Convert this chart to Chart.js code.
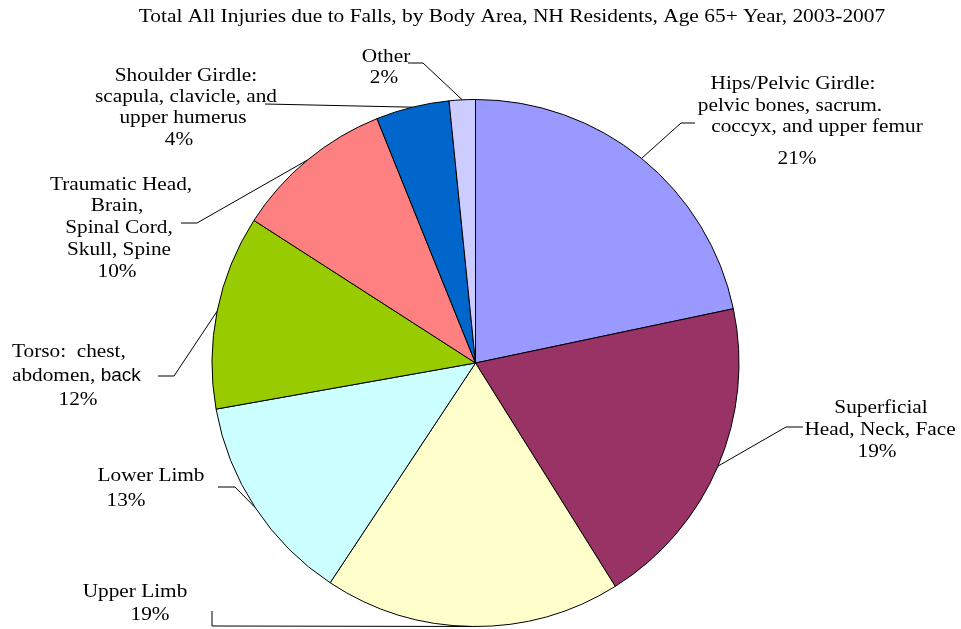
<!DOCTYPE html>
<html>
<head>
<meta charset="utf-8">
<title>Total All Injuries due to Falls, by Body Area</title>
<script src="https://cdn.jsdelivr.net/npm/chart.js@4.4.1/dist/chart.umd.min.js"></script>
<style>
  html, body { margin: 0; padding: 0; background: #fff; }
  canvas { display: block; }
</style>
</head>
<body>
<canvas id="fallsChart" width="961" height="629"></canvas>
<script>
// Data (slices clockwise from 12 o'clock)
const categories = ['Hips/Pelvic Girdle', 'Superficial Head, Neck, Face', 'Upper Limb', 'Lower Limb',
  'Torso', 'Traumatic Head, Brain, Spinal Cord, Skull, Spine', 'Shoulder Girdle', 'Other'];
const shares = [21.7, 19.4, 18.2, 12.9, 11.9, 9.8, 4.5, 1.6];
const percentLabels = ['21%', '19%', '19%', '13%', '12%', '10%', '4%', '2%'];
const sliceColors = ['#9999FF', '#993366', '#FFFFCC', '#CCFFFF', '#99CC00', '#FF8080', '#0066CC', '#CCCCFF'];
const titleText = 'Total All Injuries due to Falls, by Body Area, NH Residents, Age 65+ Year, 2003-2007';

const SERIF = '"Liberation Serif", "Times New Roman", serif';
const SANS = '"Liberation Sans", Arial, sans-serif';
const LABEL_FONT = '19px ' + SERIF;
const LABEL_STRETCH = 1.12; // the original text is a bit wider than the font

// label text lines: [text, centerX, middleY, align]; percent line uses percentLabels
const labelLayout = [
  { lines: [['Hips/Pelvic Girdle:', 793, 84], ['pelvic bones, sacrum.', 790, 106], ['coccyx, and upper femur', 817, 127]], pct: [797, 159],
    leader: [[681, 123], [695, 123]] },
  { lines: [['Superficial', 881, 408], ['Head, Neck, Face', 880, 430]], pct: [877, 452],
    leader: [[786, 427], [803, 427]] },
  { lines: [['Upper Limb', 135, 592]], pct: [150, 615],
    leader: [[212, 626], [212, 611]] },
  { lines: [['Lower Limb', 151, 476]], pct: [126, 501],
    leader: [[235, 487], [218, 487]] },
  { lines: [['Torso:  chest,', 12, 352, 'left']], pct: [78, 400], torso: true,
    leader: [[174, 376], [158, 376]] },
  { lines: [['Traumatic Head,', 121, 185], ['Brain,', 117, 206], ['Spinal Cord,', 119, 228], ['Skull, Spine', 119, 250]], pct: [117, 272],
    leader: [[197, 223], [181, 223]] },
  { lines: [['Shoulder Girdle:', 186, 76], ['scapula, clavicle, and', 186, 97], ['upper humerus', 183, 118]], pct: [179, 140],
    leader: [[265, 104]] },
  { lines: [['Other', 386, 57]], pct: [384, 78],
    leader: [[423, 63], [408, 63]] }
];

function drawText(ctx, text, x, y, align, font, stretch) {
  ctx.save();
  ctx.font = font || LABEL_FONT;
  ctx.textAlign = align || 'center';
  ctx.textBaseline = 'middle';
  ctx.translate(x, y);
  ctx.scale(stretch || LABEL_STRETCH, 1);
  ctx.fillText(text, 0, 0);
  ctx.restore();
}

const labelPlugin = {
  id: 'pieLabels',
  afterDraw(chart) {
    const ctx = chart.ctx;
    const arcs = chart.getDatasetMeta(0).data;
    ctx.save();
    ctx.fillStyle = '#000';
    ctx.strokeStyle = '#000';
    ctx.lineWidth = 1;

    drawText(ctx, titleText, 512, 17, 'center', '18px ' + SERIF, 1.19);

    arcs.forEach((arc, i) => {
      const lay = labelLayout[i];
      const mid = (arc.startAngle + arc.endAngle) / 2;
      const sx = arc.x + arc.outerRadius * Math.cos(mid);
      const sy = arc.y + arc.outerRadius * Math.sin(mid);
      ctx.beginPath();
      ctx.moveTo(sx, sy);
      lay.leader.forEach(p => ctx.lineTo(p[0], p[1]));
      ctx.stroke();

      lay.lines.forEach(l => drawText(ctx, l[0], l[1], l[2], l[3]));
      if (lay.torso) {
        ctx.font = LABEL_FONT;
        const w = ctx.measureText('abdomen, ').width * LABEL_STRETCH;
        drawText(ctx, 'abdomen, ', 12, 376, 'left');
        drawText(ctx, 'back', 12 + w, 376, 'left', '19px ' + SANS, 1.0);
      }
      drawText(ctx, percentLabels[i], lay.pct[0], lay.pct[1]);
    });
    ctx.restore();
  }
};

const ctx = document.getElementById('fallsChart').getContext('2d');
new Chart(ctx, {
  type: 'pie',
  data: {
    labels: categories,
    datasets: [{
      data: shares,
      backgroundColor: sliceColors,
      borderColor: '#000',
      borderWidth: 1
    }]
  },
  options: {
    responsive: false,
    animation: false,
    layout: { padding: { top: 99, bottom: 2, left: 211.5, right: 221.5 } },
    plugins: {
      legend: { display: false },
      tooltip: { enabled: false }
    }
  },
  plugins: [labelPlugin]
});
</script>
</body>
</html>
